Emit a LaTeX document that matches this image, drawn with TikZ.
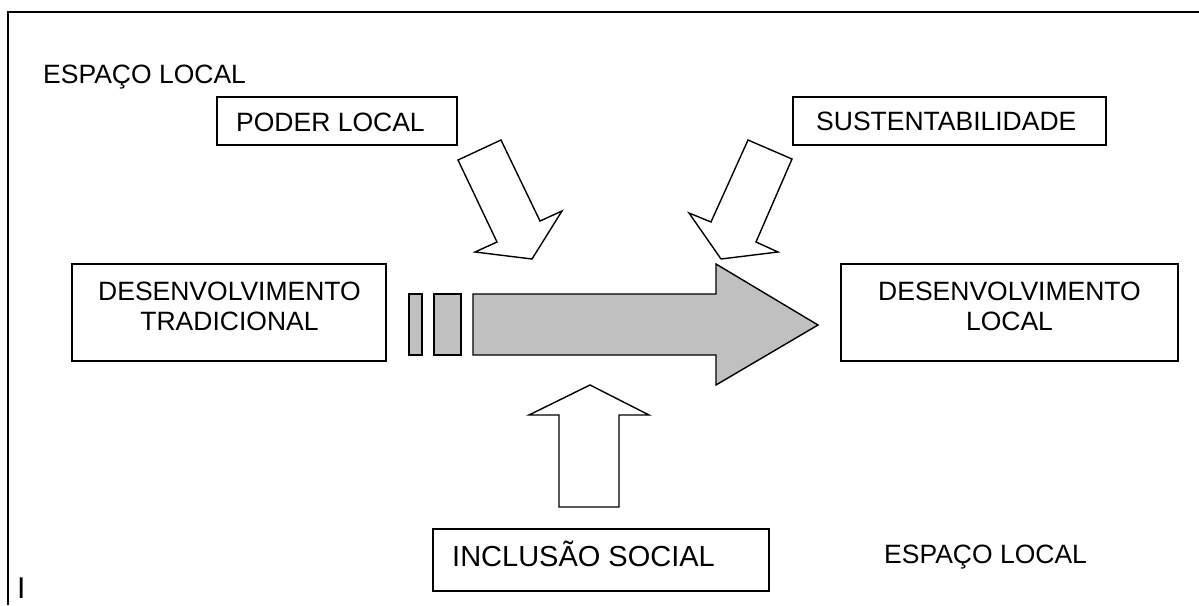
\documentclass[tikz,border=0pt]{standalone}
\usepackage{fontspec}
\setmainfont{Liberation Sans}
\definecolor{arrowgray}{RGB}{192,192,192}
\begin{document}
\begin{tikzpicture}[x=1pt,y=-1pt,
  box/.style={draw=black, line width=1.3pt, fill=white, inner sep=0pt},
  txt/.style={inner sep=0pt, font=\fontsize{26.5}{30}\selectfont},
  bigtxt/.style={inner sep=0pt, font=\fontsize{29}{33}\selectfont},
  blockarrow/.style={draw=black, line width=1.4pt, line join=miter, fill=white},
  mainarrow/.style={draw=black, line width=1.4pt, line join=miter, fill=arrowgray}]
\useasboundingbox (0,0) rectangle (1199,605);
\fill[white] (0,0) rectangle (1199,605);
% frame
\draw[line width=2pt] (8,605) -- (8,12) -- (1199,12);

% boxes
\node[box, minimum width=240, minimum height=48] (poder) at (337,121) {};
\node[box, minimum width=313, minimum height=48] (sust) at (949.5,121) {};
\node[box, minimum width=314, minimum height=97] (trad) at (229,312.5) {};
\node[box, minimum width=337, minimum height=97] (local) at (1009.5,312.5) {};
\node[box, minimum width=336, minimum height=62] (incl) at (601,560) {};

% texts
\node[txt, anchor=base west] (esp1) at (43,83) {ESPAÇO LOCAL};
\node[txt, anchor=base west] (podert) at (236,131) {PODER LOCAL};
\node[txt, anchor=base west] (sustt) at (816,130) {SUSTENTABILIDADE};
\node[txt, align=center] (tradt) at (229.5,306) {DESENVOLVIMENTO\\TRADICIONAL};
\node[txt, align=center] (localt) at (1009.5,306.5) {DESENVOLVIMENTO\\LOCAL};
\node[bigtxt, anchor=base west] (inclt) at (452,566) {INCLUSÃO SOCIAL};
\node[txt, anchor=base west] (esp2) at (884,563) {ESPAÇO LOCAL};
\node[inner sep=0pt, anchor=base west, font=\fontsize{30}{34}\selectfont] (cursor) at (17,598) {I};

% main grey arrow with two small bars
\draw[mainarrow] (409,294) rectangle (422,355);
\draw[mainarrow] (434,294) rectangle (461,355);
\draw[mainarrow] (473,294) -- (716,294) -- (716,264) -- (818,325) -- (716,385) -- (716,355) -- (473,355) -- cycle;

% PODER LOCAL arrow
\draw[blockarrow] (458,160) -- (501,140) -- (540,221) -- (562,211) -- (532,259) -- (475,252) -- (497,242) -- cycle;
% SUSTENTABILIDADE arrow
\draw[blockarrow] (748,140) -- (792,159) -- (756,242) -- (778,252) -- (721,259) -- (689,213) -- (711,222) -- cycle;
% INCLUSAO arrow
\draw[blockarrow] (590,385) -- (649,415) -- (619,415) -- (619,507) -- (559,507) -- (559,415) -- (529,415) -- cycle;
\end{tikzpicture}
\end{document}
